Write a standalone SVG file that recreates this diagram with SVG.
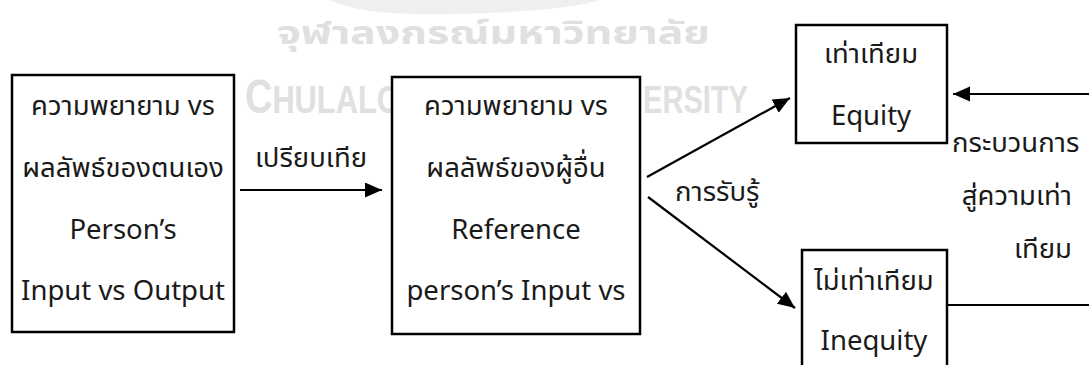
<svg xmlns="http://www.w3.org/2000/svg" width="1089" height="365" viewBox="0 0 1089 365">
  <style>
    .box { fill: #ffffff; stroke: #000000; stroke-width: 2.5; }
    .t { font-family: "Noto Sans Thai", "Leelawadee UI", "Tahoma", "Noto Sans", "Open Sans", sans-serif; font-size: 27.5px; fill: #1a1a1a; }
    .c { text-anchor: middle; }
    .r { text-anchor: end; }
    .wm { font-family: "Noto Sans Thai", "Liberation Sans", sans-serif; font-weight: bold; fill: #e0e0e0; }
    .wl { font-family: "Liberation Sans Narrow", "Liberation Sans", sans-serif; font-weight: bold; fill: #e0e0e0; }
    .ln { stroke: #000000; stroke-width: 2.2; fill: none; }
  </style>
  <defs>
    <marker id="ah" markerUnits="userSpaceOnUse" markerWidth="18" markerHeight="16" refX="17" refY="7.5" orient="auto">
      <path d="M0,0 L17,7.5 L0,15 z" fill="#000000"/>
    </marker>
  </defs>
  <rect width="1089" height="365" fill="#ffffff"/>

  <g id="watermark">
    <path d="M330,0 Q360,16 450,14 Q560,12 600,0 Z" fill="#efefef"/>
    <text class="wm" x="277" y="44" font-size="32" textLength="433" lengthAdjust="spacingAndGlyphs">จุฬาลงกรณ์มหาวิทยาลัย</text>
    <text class="wl" transform="translate(245,113) scale(0.79,1)" x="0" y="0" font-size="39"><tspan font-size="48">C</tspan>HULALO</text>
    <text class="wl" x="643" y="113" font-size="39" textLength="105" lengthAdjust="spacingAndGlyphs">ERSITY</text>
  </g>

  <g id="connectors">
    <line class="ln" x1="240" y1="190" x2="382" y2="190" marker-end="url(#ah)"/>
    <line class="ln" x1="647" y1="177" x2="790" y2="98" marker-end="url(#ah)"/>
    <line class="ln" x1="648" y1="197" x2="795" y2="308" marker-end="url(#ah)"/>
    <line class="ln" x1="1089" y1="94" x2="953" y2="94" marker-end="url(#ah)"/>
    <line class="ln" x1="947" y1="305" x2="1089" y2="305"/>
    <text class="t" x="255" y="167">เปรียบเทีย</text>
    <text class="t" x="675" y="201">การรับรู้</text>
    <text class="t" x="952" y="152">กระบวนการ</text>
    <text class="t r" x="1072" y="205">สู่ความเท่า</text>
    <text class="t r" x="1072" y="258">เทียม</text>
  </g>

  <g id="self">
    <rect class="box" x="12" y="75" width="222" height="257"/>
    <text class="t c" x="123" y="115">ความพยายาม vs</text>
    <text class="t c" x="123" y="177">ผลลัพธ์ของตนเอง</text>
    <text class="t c" x="123" y="239">Person’s</text>
    <text class="t c" x="123" y="300">Input vs Output</text>
  </g>

  <g id="reference">
    <rect class="box" x="392" y="77" width="248" height="257"/>
    <text class="t c" x="516" y="115">ความพยายาม vs</text>
    <text class="t c" x="516" y="177">ผลลัพธ์ของผู้อื่น</text>
    <text class="t c" x="516" y="239">Reference</text>
    <text class="t c" x="516" y="300">person’s Input vs</text>
  </g>

  <g id="equity">
    <rect class="box" x="796" y="25" width="151" height="118"/>
    <text class="t c" x="871" y="63">เท่าเทียม</text>
    <text class="t c" x="871" y="125">Equity</text>
  </g>

  <g id="inequity">
    <rect class="box" x="802" y="250" width="145" height="130"/>
    <text class="t c" x="874" y="290">ไม่เท่าเทียม</text>
    <text class="t c" x="874" y="350">Inequity</text>
  </g>
</svg>
